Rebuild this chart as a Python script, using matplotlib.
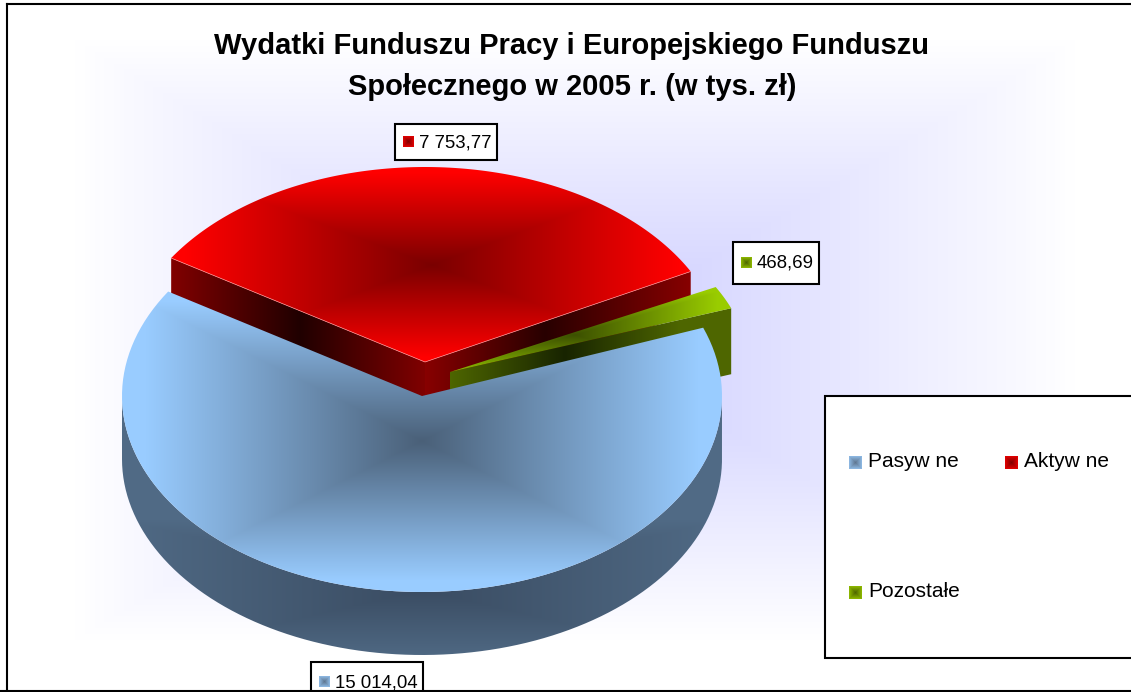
import numpy as np
import matplotlib
matplotlib.use("Agg")
import matplotlib.pyplot as plt
from matplotlib.colors import to_rgb
from matplotlib.path import Path
from matplotlib.patches import PathPatch, Rectangle

plt.rcParams['font.family'] = ['Liberation Sans', 'DejaVu Sans']

# chart data
categories = ["Pasyw ne", "Aktyw ne", "Pozostałe"]
values = [15014.04, 7753.77, 468.69]
value_labels = ["15 014,04", "7 753,77", "468,69"]
title_lines = ["Wydatki Funduszu Pracy i Europejskiego Funduszu", "Społecznego w 2005 r. (w tys. zł)"]
marker_dark = ["#5f7690", "#800000", "#4e6600"]
marker_light = ["#8fbbe6", "#e60000", "#8fbb00"]

W, H = 1131, 692
START_ANGLE = 20.4
RX = 300


def blend(v, dark, light):
    v = np.clip(v, 0, 1)[..., None]
    return np.array(to_rgb(dark)) * (1 - v) + np.array(to_rgb(light)) * v


# paints a colour field clipped to a path, field is computed on pixel grid
def paint(ax, path, field, dark, light, z):
    ext = path.get_extents()
    x0, x1 = int(ext.x0) - 1, int(ext.x1) + 2
    y0, y1 = int(ext.y0) - 1, int(ext.y1) + 2
    xx, yy = np.meshgrid(np.arange(x0, x1) + 0.5, np.arange(y0, y1) + 0.5)
    img = blend(field(xx, yy), dark, light)
    im = ax.imshow(img, extent=(x0, x1, y1, y0), origin="upper", aspect="auto",
                   interpolation="nearest", zorder=z)
    im.set_clip_path(PathPatch(path, transform=ax.transData))


def box_field(cx, cy, hw, hh, scale=1.0):
    return lambda x, y: np.maximum(np.abs(x - cx) / hw, np.abs(y - cy) / hh) / scale


def band_field(left, mid, right):
    return lambda x, y: np.where(x < mid, (mid - x) / (mid - left), (x - mid) / (right - mid))


def wedge_path(cx, cy, ry, a0, a1):
    t = np.radians(np.linspace(a0, a1, 120))
    px = np.r_[cx, cx + RX * np.cos(t), cx]
    py = np.r_[cy, cy - ry * np.sin(t), cy]
    return Path(np.c_[px, py])


# vertical face hanging under the straight segment p -> q
def wall_path(p, q, depth):
    return Path([p, q, (q[0], q[1] + depth), (p[0], p[1] + depth), p])


def rim_point(cx, cy, ry, angle):
    a = np.radians(angle)
    return (cx + RX * np.cos(a), cy - ry * np.sin(a))


fig = plt.figure(figsize=(W / 100, H / 100), dpi=100)
ax = fig.add_axes([0, 0, 1, 1])

# background glow
page = Path([(0, 0), (W, 0), (W, H), (0, H), (0, 0)])
paint(ax, page, lambda x, y: np.maximum(np.abs(x - 575) / 500, np.abs(y - 340) / 300),
      "#ccccff", "#ffffff", 0)

# wedge angles from the values, running clockwise from START_ANGLE
sweeps = np.array(values) / np.sum(values) * 360
ends = START_ANGLE - np.cumsum(sweeps)
starts = np.r_[START_ANGLE, ends[:-1]]

# Pasywne side, drawn first
bx, by, bry, bdepth = 422, 396, 196, 63
t = np.radians(np.linspace(180, 360, 200))
side_x = bx + RX * np.cos(t)
side_y = by - bry * np.sin(t)
side = Path(np.c_[np.r_[side_x, side_x[::-1], side_x[0]],
                  np.r_[side_y, side_y[::-1] + bdepth, side_y[0]]])
paint(ax, side, box_field(422, 590, 300, 70), "#3a4c62", "#506a85", 1)

# Aktywne, pulled out of the pie
rx, ry, rry, rdepth = 425, 362, 195, 42
red_top = wedge_path(rx, ry, rry, ends[1], starts[1])
left_pt = rim_point(rx, ry, rry, starts[1])
right_pt = rim_point(rx, ry, rry, ends[1])
paint(ax, wall_path(left_pt, (rx, ry), rdepth), band_field(173, 300, 425), "#200000", "#800000", 2)
paint(ax, wall_path((rx, ry), right_pt, rdepth), band_field(425, 545, 692), "#280000", "#880000", 2)
paint(ax, red_top, box_field(432, 265, 260, 97, 0.95), "#7a0000", "#ff0000", 3)
ax.plot([left_pt[0], rx, right_pt[0]], [left_pt[1], ry, right_pt[1]], color="#ff9090", lw=0.5, zorder=3.1)

# Pozostale
gx, gy, gry, gdepth = 450, 372, 183, 66
green_top = wedge_path(gx, gy, gry, ends[2], starts[2])
green_pt = rim_point(gx, gy, gry, ends[2])
paint(ax, wall_path((gx, gy), green_pt, gdepth), band_field(450, 565, 680), "#182400", "#4e6600", 4)
paint(ax, green_top, box_field(575, 335, 150, 45, 0.95), "#3c5000", "#99cc00", 5)

# Pasywne top goes over the walls behind it
blue_top = wedge_path(bx, by, bry, ends[0], starts[0])
paint(ax, blue_top, box_field(422, 441, 300, 151, 0.92), "#4a6078", "#99ccff", 6)

# title
for line, y in zip(title_lines, [46, 87]):
    ax.text(572, y, line, ha="center", va="center", fontsize=21, fontweight="bold", color="black", zorder=10)


def marker(x, y, size, i):
    s = Path([(x, y), (x + size, y), (x + size, y + size), (x, y + size), (x, y)])
    half = size / 2
    paint(ax, s, box_field(x + half, y + half, half, half), marker_dark[i], marker_light[i], 12)


# data labels
label_boxes = [(311, 662, 112, 40), (395, 124, 102, 36), (733, 242, 86, 42)]
for i, (x, y, w, h) in enumerate(label_boxes):
    ax.add_patch(Rectangle((x, y), w, h, fc="white", ec="black", lw=1.5, zorder=11))
    my = min(y + h / 2, 682) - 6
    marker(x + 8, my, 11, i)
    ax.text(x + 24, my + 6.5, value_labels[i], ha="left", va="center", fontsize=13.4, zorder=12)

# legend
ax.add_patch(Rectangle((825, 396), 320, 262, fc="white", ec="black", lw=1.5, zorder=11))
legend_pos = [(849, 456), (1005, 456), (849, 586)]
for i, (x, y) in enumerate(legend_pos):
    marker(x, y, 13, i)
    ax.text(x + 19, y + 5.5, categories[i], ha="left", va="center", fontsize=15, zorder=12)

# chart frame
ax.plot([7, 7], [4, H], color="black", lw=1.5, zorder=13)
ax.plot([7, W], [4, 4], color="black", lw=1.5, zorder=13)
ax.plot([0, W], [691, 691], color="black", lw=1.5, zorder=13)

ax.set_xlim(0, W)
ax.set_ylim(H, 0)
ax.axis("off")
fig.savefig("out.png", dpi=100)
